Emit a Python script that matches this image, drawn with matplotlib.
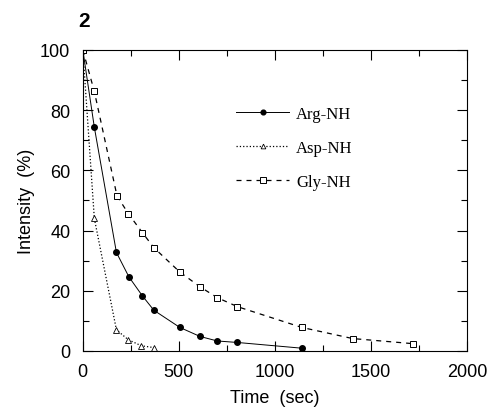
import matplotlib
matplotlib.use("Agg")
import matplotlib.pyplot as plt
from matplotlib.ticker import MultipleLocator

# values
arg_t = [0, 60, 175, 240, 310, 370, 505, 610, 700, 805, 1140]
arg_i = [100, 74.3, 32.7, 24.6, 18.3, 13.5, 7.8, 4.8, 3.3, 2.8, 0.9]

asp_t = [0, 60, 175, 237, 305, 370]
asp_i = [100, 44, 7.0, 3.7, 1.7, 1.1]

gly_t = [0, 60, 178, 237, 310, 370, 505, 610, 700, 805, 1140, 1405, 1720]
gly_i = [100, 86.2, 51.5, 45.6, 39.3, 34.3, 26.2, 21.3, 17.7, 14.7, 7.8, 4.1, 2.4]

plt.rcParams['font.family'] = ['Liberation Sans', 'DejaVu Sans']

fig = plt.figure(figsize=(4.9, 4.14), dpi=100)
ax = fig.add_axes([0.169, 0.150, 0.784, 0.727])

ax.plot(arg_t, arg_i, '-', color='black', lw=0.7, marker='o', ms=4,
        mfc='black', label='Arg-NH')
ax.plot(asp_t, asp_i, ':', color='black', lw=0.9, marker='^', ms=4,
        mfc='white', mew=0.6, label='Asp-NH')
ax.plot(gly_t, gly_i, '--', color='black', lw=0.9, marker='s', ms=4.3,
        mfc='white', mew=0.7, dashes=(4, 4), label='Gly-NH')

ax.set_xlim(0, 2000)
ax.set_ylim(0, 100)
ax.xaxis.set_major_locator(MultipleLocator(500))
ax.xaxis.set_minor_locator(MultipleLocator(250))
ax.yaxis.set_major_locator(MultipleLocator(20))
ax.yaxis.set_minor_locator(MultipleLocator(10))
ax.tick_params(which='both', direction='in', top=True, right=True,
               labelsize=13, width=0.8)
ax.tick_params(which='major', length=7, pad=9)
ax.tick_params(which='minor', length=4)
for s in ax.spines.values():
    s.set_linewidth(0.8)

ax.set_xlabel('Time  (sec)', fontsize=13, labelpad=6)
ax.set_ylabel('Intensity  (%)', fontsize=13, labelpad=4)

leg = ax.legend(loc='upper left', bbox_to_anchor=(0.36, 0.865), frameon=False,
                prop={'family': 'Liberation Serif', 'size': 12},
                handlelength=3.2, labelspacing=1.1, handletextpad=0.4,
                markerscale=0.85)

fig.text(0.172, 0.935, '2', fontsize=15, fontweight='bold', ha='center')

fig.savefig('out.png', dpi=100)
